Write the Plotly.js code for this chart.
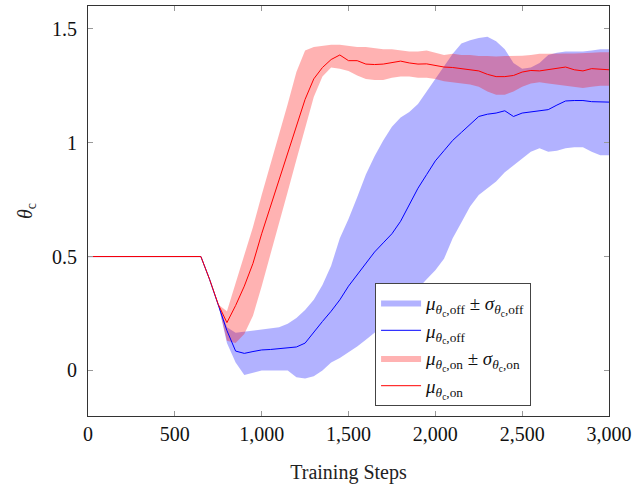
<!DOCTYPE html>
<html>
<head>
<meta charset="utf-8">
<script src="https://cdn.plot.ly/plotly-3.0.1.min.js"></script>
<style>html,body{margin:0;padding:0;background:#fff}#chart{width:639px;height:488px}</style>
</head>
<body>
<div id="chart"></div>
<script>
const steps = [0,50,100,150,200,250,300,350,400,450,500,550,600,650,
  700,750,800,850,900,950,1000,1050,1100,1150,
  1200,1250,1300,1350,1400,1450,1500,1550,1600,1650,
  1700,1750,1800,1850,1900,1950,2000,2050,2100,2150,
  2200,2250,2300,2350,2400,2450,2500,2550,2600,2650,
  2700,2750,2800,2850,2900,2950,3000];

const muOff = [0.5,0.5,0.5,0.5,0.5,0.5,0.5,0.5,0.5,0.5,0.5,0.5,0.5,0.5,
  0.40,0.29,0.175,0.085,0.075,0.083,0.09,0.092,0.096,0.10,
  0.103,0.12,0.165,0.215,0.26,0.31,0.37,0.42,0.47,0.52,
  0.56,0.60,0.655,0.73,0.80,0.86,0.92,0.965,1.01,1.045,
  1.08,1.115,1.125,1.13,1.14,1.115,1.13,1.135,1.14,1.145,
  1.165,1.183,1.185,1.185,1.18,1.18,1.178];

const offUpper = [0.5,0.5,0.5,0.5,0.5,0.5,0.5,0.5,0.5,0.5,0.5,0.5,0.5,0.5,
  0.40,0.29,0.19,0.165,0.17,0.175,0.18,0.185,0.19,0.205,
  0.23,0.265,0.31,0.375,0.46,0.58,0.665,0.76,0.86,0.94,
  1.01,1.07,1.11,1.135,1.17,1.225,1.28,1.33,1.39,1.435,
  1.45,1.46,1.465,1.445,1.41,1.35,1.325,1.33,1.35,1.385,
  1.395,1.40,1.40,1.40,1.405,1.41,1.41];

const offLower = [0.5,0.5,0.5,0.5,0.5,0.5,0.5,0.5,0.5,0.5,0.5,0.5,0.5,0.5,
  0.40,0.29,0.12,0.035,-0.02,-0.01,0.0,0.0,0.0,0.0,
  -0.03,-0.035,-0.025,0.0,0.035,0.055,0.08,0.105,0.135,0.165,
  0.20,0.235,0.27,0.31,0.36,0.40,0.44,0.49,0.58,0.65,
  0.72,0.77,0.80,0.83,0.87,0.90,0.93,0.96,0.975,0.96,
  0.965,0.975,0.98,0.98,0.96,0.945,0.945];

const muOn = [0.5,0.5,0.5,0.5,0.5,0.5,0.5,0.5,0.5,0.5,0.5,0.5,0.5,0.5,
  0.40,0.29,0.21,0.285,0.37,0.47,0.60,0.72,0.83,0.95,
  1.08,1.19,1.28,1.33,1.365,1.385,1.36,1.36,1.345,1.343,
  1.345,1.352,1.358,1.35,1.345,1.346,1.338,1.332,1.33,1.325,
  1.32,1.315,1.30,1.29,1.29,1.295,1.31,1.317,1.315,1.32,
  1.325,1.332,1.32,1.315,1.325,1.322,1.32];

const onUpper = [0.5,0.5,0.5,0.5,0.5,0.5,0.5,0.5,0.5,0.5,0.5,0.5,0.5,0.5,
  0.40,0.29,0.26,0.38,0.50,0.63,0.77,0.90,1.04,1.17,
  1.31,1.405,1.42,1.425,1.43,1.43,1.425,1.42,1.42,1.415,
  1.41,1.41,1.405,1.40,1.40,1.405,1.395,1.385,1.39,1.385,
  1.385,1.38,1.38,1.378,1.38,1.38,1.382,1.385,1.39,1.39,
  1.392,1.392,1.392,1.392,1.395,1.397,1.397];

const onLower = [0.5,0.5,0.5,0.5,0.5,0.5,0.5,0.5,0.5,0.5,0.5,0.5,0.5,0.5,
  0.40,0.29,0.13,0.12,0.16,0.24,0.37,0.505,0.645,0.785,
  0.925,1.065,1.20,1.29,1.33,1.325,1.315,1.295,1.28,1.275,
  1.275,1.285,1.29,1.29,1.285,1.285,1.28,1.27,1.265,1.26,
  1.255,1.245,1.225,1.21,1.21,1.225,1.245,1.26,1.265,1.26,
  1.255,1.25,1.245,1.24,1.245,1.25,1.25];

const names = {
  bandOff: '<i>μ</i><sub><i>θ</i><sub>c</sub>,off</sub> ± <i>σ</i><sub><i>θ</i><sub>c</sub>,off</sub>',
  lineOff: '<i>μ</i><sub><i>θ</i><sub>c</sub>,off</sub>',
  bandOn: '<i>μ</i><sub><i>θ</i><sub>c</sub>,on</sub> ± <i>σ</i><sub><i>θ</i><sub>c</sub>,on</sub>',
  lineOn: '<i>μ</i><sub><i>θ</i><sub>c</sub>,on</sub>'
};

const traces = [
  {x: steps, y: offLower, mode: 'lines', line: {width: 0, color: 'rgba(0,0,0,0)'}, showlegend: false, hoverinfo: 'skip'},
  {x: steps, y: offUpper, mode: 'lines', fill: 'tonexty', fillcolor: 'rgba(0,0,255,0.3)', line: {width: 0, color: 'rgba(0,0,0,0)'}, name: names.bandOff, legendrank: 1},
  {x: steps, y: onLower, mode: 'lines', line: {width: 0, color: 'rgba(0,0,0,0)'}, showlegend: false, hoverinfo: 'skip'},
  {x: steps, y: onUpper, mode: 'lines', fill: 'tonexty', fillcolor: 'rgba(255,0,0,0.3)', line: {width: 0, color: 'rgba(0,0,0,0)'}, name: names.bandOn, legendrank: 3},
  {x: steps, y: muOff, mode: 'lines', line: {width: 1, color: '#0000ff'}, name: names.lineOff, legendrank: 2},
  {x: steps, y: muOn, mode: 'lines', line: {width: 1, color: '#ff0000'}, name: names.lineOn, legendrank: 4}
];

const font = 'Liberation Serif, DejaVu Serif, serif';
const layout = {
  width: 639, height: 488,
  margin: {l: 88, r: 30, t: 6, b: 72},
  paper_bgcolor: '#fff', plot_bgcolor: '#fff',
  font: {family: font, size: 20, color: '#222'},
  showlegend: true,
  legend: {
    x: 0.551, y: 0.325, xanchor: 'left', yanchor: 'top',
    traceorder: 'normal',
    bgcolor: '#fff', bordercolor: '#444', borderwidth: 1,
    font: {family: font, size: 19, color: '#111'},
    tracegroupgap: 0, itemwidth: 40
  },
  xaxis: {
    range: [0, 3000], tickvals: [0,500,1000,1500,2000,2500,3000],
    tickformat: ',d', ticks: 'inside', ticklen: 5, tickcolor: '#999',
    showline: true, linecolor: '#333', linewidth: 1, mirror: 'ticks',
    showgrid: false, zeroline: false,
    tickfont: {family: font, size: 20, color: '#111'},
    title: {text: 'Training Steps', font: {family: font, size: 20, color: '#222'}, standoff: 20}
  },
  yaxis: {
    range: [-0.2, 1.6], tickvals: [0, 0.5, 1, 1.5],
    ticks: 'inside', ticklen: 5, tickcolor: '#999',
    showline: true, linecolor: '#333', linewidth: 1, mirror: 'ticks',
    showgrid: false, zeroline: false,
    tickfont: {family: font, size: 20, color: '#111'},
    ticklabelstandoff: 6,
    title: {text: '<i>θ</i><sub>c</sub>', font: {family: font, size: 20, color: '#222'}, standoff: 14}
  }
};

Plotly.newPlot('chart', traces, layout, {displayModeBar: false, staticPlot: true});
</script>
</body>
</html>
